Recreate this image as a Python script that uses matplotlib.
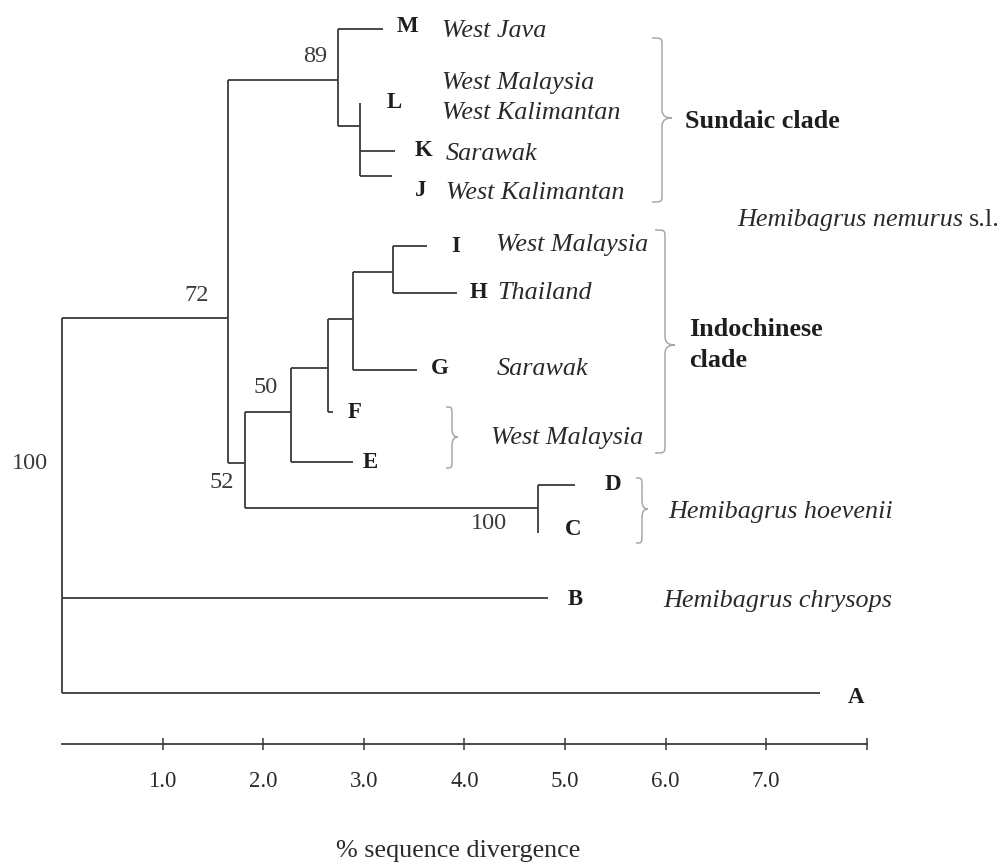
import matplotlib.pyplot as plt
from matplotlib.path import Path
from matplotlib.patches import PathPatch

plt.rcParams["font.family"] = ["Liberation Serif", "DejaVu Serif"]

# terminal taxa and their path length from the root (% divergence)
TIPS = ["M", "L", "K", "J", "I", "H", "G", "F", "E", "D", "C", "B", "A"]
TIP_DEPTH = [3.19, 2.96, 3.31, 3.28, 3.63, 3.93, 3.53, 2.69, 2.89,
             5.10, 4.73, 4.83, 7.53]

# internal nodes
NODES = ["sub", "sun", "ih", "ihg", "f", "n50", "hoe", "n52", "n72", "root"]
NODE_DEPTH = [2.96, 2.74, 3.29, 2.89, 2.64, 2.28, 4.73, 1.82, 1.65, 0.0]
NODE_CHILDREN = [
    ["L", "K", "J"], ["M", "sub"], ["I", "H"], ["ih", "G"], ["ihg", "F"],
    ["f", "E"], ["D", "C"], ["n50", "hoe"], ["sun", "n52"],
    ["n72", "B", "A"]]
BOOTSTRAP = [None, 89, None, None, None, 50, 100, 52, 72, 100]

LOCALITIES = [
    ("West Java", "M"), ("West Malaysia", "L1"), ("West Kalimantan", "L2"),
    ("Sarawak", "K"), ("West Kalimantan", "J"), ("West Malaysia", "I"),
    ("Thailand", "H"), ("Sarawak", "G"), ("West Malaysia", "FE")]

SCALE_TICKS = [1, 2, 3, 4, 5, 6, 7, 8]
SCALE_LABELS = ["1.0", "2.0", "3.0", "4.0", "5.0", "6.0", "7.0", ""]
AXIS_TITLE = "% sequence divergence"

# ---- layout (figure pixels, y downwards) ----
X0_PX = 62
PX_PER_UNIT = 100.6
TIP_ROW = {"M": 29, "L": 103, "K": 151, "J": 176, "I": 246, "H": 293,
           "G": 370, "F": 412, "E": 462, "D": 485, "C": 533, "B": 598,
           "A": 693}
NODE_ROW = {"sub": 126, "sun": 80, "ih": 272, "ihg": 319, "f": 368,
            "n50": 412, "hoe": 508, "n52": 463, "n72": 318, "root": 500}
LETTER_POS = {"M": (407, 27), "L": (394, 102), "K": (424, 151),
              "J": (421, 191), "I": (456, 246), "H": (479, 292),
              "G": (440, 368), "F": (355, 412), "E": (370, 462),
              "D": (613, 484), "C": (573, 529), "B": (575, 599),
              "A": (856, 697)}
LOC_POS = {"M": (442, 31), "L1": (442, 83), "L2": (442, 113),
           "K": (446, 154), "J": (446, 193), "I": (496, 245),
           "H": (497, 293), "G": (497, 369), "FE": (491, 438)}
SUPPORT_POS = {"sun": (315, 57), "n50": (266, 387), "hoe": (489, 523),
               "n52": (222, 482), "n72": (197, 295), "root": (30, 463)}
LINE_COL = "#3a3a3a"
TEXT_COL = "#1e1e1e"
ITAL_COL = "#2a2a2a"
BRACE_COL = "#a8a8a8"
FS_LABEL = 18.8


def px(x):
    return (x - X0_PX) / PX_PER_UNIT


def brace(ax, x, y0, y1, ytip, w):
    h = w * 0.5
    c = 9
    verts = [
        (x, y0), (x + h, y0), (x + h, y0), (x + h, y0 + c),
        (x + h, ytip - c),
        (x + h, ytip - 2), (x + w * 0.7, ytip), (x + w, ytip),
        (x + w * 0.7, ytip), (x + h, ytip + 2), (x + h, ytip + c),
        (x + h, y1 - c),
        (x + h, y1), (x + h, y1), (x, y1)]
    codes = ([Path.MOVETO] + [Path.CURVE4] * 3 + [Path.LINETO]
             + [Path.CURVE4] * 6 + [Path.LINETO] + [Path.CURVE4] * 3)
    verts = [(px(vx), vy) for vx, vy in verts]
    ax.add_patch(PathPatch(Path(verts, codes), fill=False,
                           ec=BRACE_COL, lw=1.1))


fig = plt.figure(figsize=(10.03, 8.63), dpi=100)
ax = fig.add_axes([0, 0, 1, 1])
ax.set_xlim(px(0), px(1003))
ax.set_ylim(863, 0)
ax.axis("off")

depth = dict(zip(TIPS, TIP_DEPTH))
depth.update(dict(zip(NODES, NODE_DEPTH)))
row = dict(TIP_ROW)
row.update(NODE_ROW)

# branches
for node, kids in zip(NODES, NODE_CHILDREN):
    ys = [row[k] for k in kids]
    ax.plot([depth[node], depth[node]], [min(ys), max(ys)],
            color=LINE_COL, lw=1.3, solid_capstyle="butt")
    for k in kids:
        ax.plot([depth[node], depth[k]], [row[k], row[k]],
                color=LINE_COL, lw=1.3, solid_capstyle="butt")

# bootstrap values
for node, bs in zip(NODES, BOOTSTRAP):
    if bs is None:
        continue
    x, y = SUPPORT_POS[node]
    ax.text(px(x), y, str(bs), ha="center", va="center", fontsize=17.5,
            color="#3a3a3a")

# tip letters
for t in TIPS:
    x, y = LETTER_POS[t]
    ax.text(px(x), y, t, ha="center", va="center", fontsize=16.5,
            fontweight="bold", color=TEXT_COL)

# localities
for name, key in LOCALITIES:
    x, y = LOC_POS[key]
    ax.text(px(x), y, name, ha="left", va="center", fontsize=FS_LABEL,
            style="italic", color=ITAL_COL)

# groups
ax.text(px(685), 122, "Sundaic clade", ha="left", va="center",
        fontsize=FS_LABEL, fontweight="bold", color=TEXT_COL)
ax.text(px(689), 345, "Indochinese\nclade", ha="left", va="center",
        fontsize=FS_LABEL, fontweight="bold", color=TEXT_COL,
        linespacing=1.4)
nem = ax.text(px(737), 220, "Hemibagrus nemurus", ha="left", va="center",
              fontsize=FS_LABEL, style="italic", color=ITAL_COL)
ax.annotate("s.l.", xy=(1, 0.5), xycoords=nem, xytext=(4, 0),
            textcoords="offset points", ha="left", va="center",
            fontsize=FS_LABEL, color=ITAL_COL)
ax.text(px(668), 512, "Hemibagrus hoevenii", ha="left", va="center",
        fontsize=FS_LABEL, style="italic", color=ITAL_COL)
ax.text(px(663), 601, "Hemibagrus chrysops", ha="left", va="center",
        fontsize=FS_LABEL, style="italic", color=ITAL_COL)

brace(ax, 652, 38, 202, 118, 20)
brace(ax, 655, 230, 453, 345, 20)
brace(ax, 446, 407, 468, 437, 12)
brace(ax, 636, 478, 543, 509, 12)

# scale bar
bar_y = 744
ax.plot([0, SCALE_TICKS[-1]], [bar_y, bar_y], color=LINE_COL, lw=1.3)
ax.vlines(SCALE_TICKS, bar_y - 6, bar_y + 6, color=LINE_COL, lw=1.1)
for t, lab in zip(SCALE_TICKS, SCALE_LABELS):
    ax.text(t, 781, lab, ha="center", va="center", fontsize=16.5,
            color=ITAL_COL)
ax.text(px(458), 851, AXIS_TITLE, ha="center", va="center", fontsize=FS_LABEL,
        color=ITAL_COL)

fig.savefig("out.png", dpi=100, facecolor="white")
